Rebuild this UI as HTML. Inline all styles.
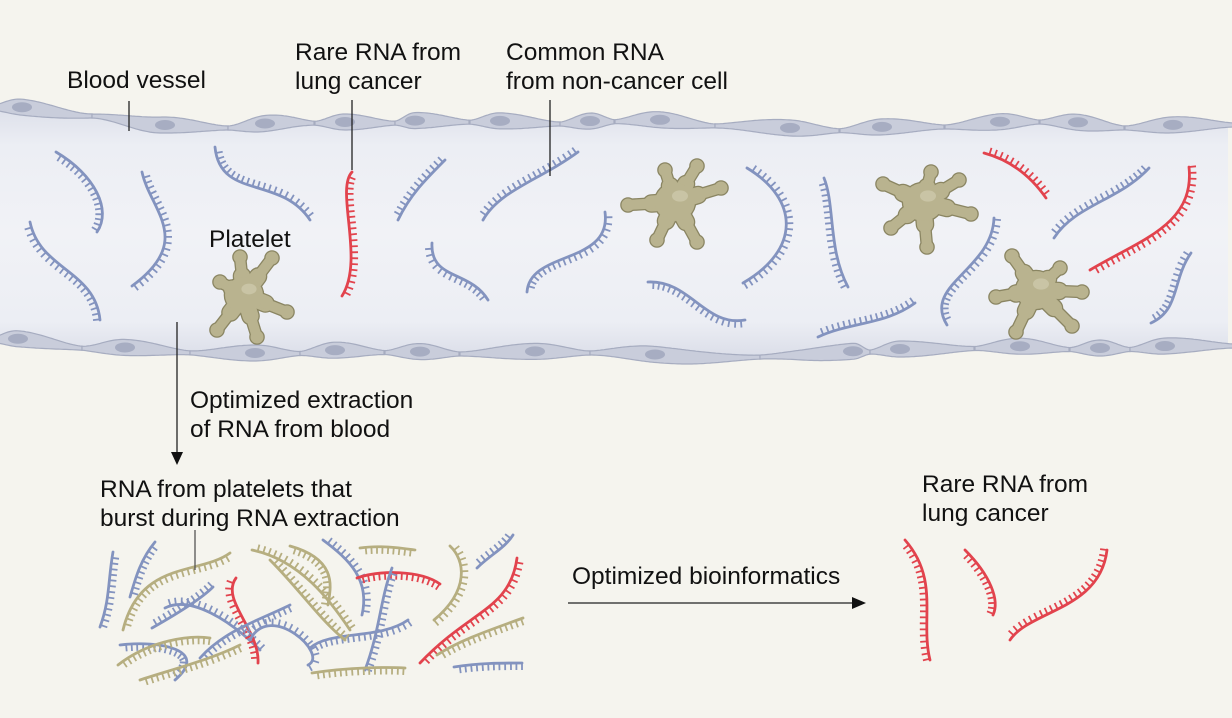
<!DOCTYPE html>
<html><head><meta charset="utf-8"><style>
html,body{margin:0;padding:0;background:#f5f4ee;}
svg{display:block}
text{font-family:"Liberation Sans",sans-serif;font-size:24.5px;fill:#111;}
</style></head><body>
<svg id="s" width="1232" height="718" viewBox="0 0 1232 718" xmlns="http://www.w3.org/2000/svg">
<defs>
<linearGradient id="vg" x1="0" y1="0" x2="0" y2="1">
<stop offset="0" stop-color="#dde0ea"/><stop offset="0.15" stop-color="#eceef4"/>
<stop offset="0.5" stop-color="#f1f2f6"/><stop offset="0.85" stop-color="#eceef4"/><stop offset="1" stop-color="#dadde8"/>
</linearGradient>
</defs>
<rect width="1232" height="718" fill="#f5f4ee"/>
<path id="vessel" fill="url(#vg)"/>
<g id="walls"></g>
<g id="strands"></g>
<g id="plates"></g>
<text x="67" y="88">Blood vessel</text>
<text x="295" y="60">Rare RNA from</text>
<text x="295" y="89">lung cancer</text>
<text x="506" y="60">Common RNA</text>
<text x="506" y="89">from non-cancer cell</text>
<text x="209" y="247">Platelet</text>
<text x="190" y="408">Optimized extraction</text>
<text x="190" y="437">of RNA from blood</text>
<text x="100" y="497">RNA from platelets that</text>
<text x="100" y="526">burst during RNA extraction</text>
<text x="572" y="584">Optimized bioinformatics</text>
<text x="922" y="492">Rare RNA from</text>
<text x="922" y="521">lung cancer</text>
<g stroke="#222" stroke-width="1.3">
<line x1="129" y1="101" x2="129" y2="131"/>
<line x1="352" y1="100" x2="352" y2="170"/>
<line x1="550" y1="100" x2="550" y2="176"/>
<line x1="195" y1="530" x2="195" y2="570" stroke="#555"/>
<line x1="177" y1="322" x2="177" y2="455"/>
<line x1="568" y1="603" x2="855" y2="603"/>
</g>
<path d="M171,452 L177,465 L183,452 Z" fill="#111"/>
<path d="M852,597 L866,603 L852,609 Z" fill="#111"/>
</svg>
<script>
var NS="http://www.w3.org/2000/svg";
function el(t,a,p){var e=document.createElementNS(NS,t);for(var k in a)e.setAttribute(k,a[k]);p.appendChild(e);return e;}
var C={b:"#8393bf",r:"#e2434d",o:"#b6ae80"};
function bez(p,t){var u=1-t;return [u*u*u*p[0]+3*u*u*t*p[2]+3*u*t*t*p[4]+t*t*t*p[6],u*u*u*p[1]+3*u*u*t*p[3]+3*u*t*t*p[5]+t*t*t*p[7]];}
var SG=document.getElementById("strands");
function strand(p,c,side){side=side||1;var col=C[c];
 var d="M"+p[0]+","+p[1]+" C"+p[2]+","+p[3]+" "+p[4]+","+p[5]+" "+p[6]+","+p[7];
 el("path",{d:d,fill:"none",stroke:col,"stroke-width":2.8,"stroke-linecap":"round"},SG);
 var pts=[];for(var i=0;i<=200;i++)pts.push(bez(p,i/200));
 var acc=0,td="";
 for(var i=1;i<pts.length;i++){var dx=pts[i][0]-pts[i-1][0],dy=pts[i][1]-pts[i-1][1],s=Math.hypot(dx,dy);acc+=s;
  if(acc>=5.5){acc=0;var nx=-dy/s*side,ny=dx/s*side;var x=pts[i][0],y=pts[i][1];
   td+="M"+x.toFixed(1)+","+y.toFixed(1)+"L"+(x+nx*7).toFixed(1)+","+(y+ny*7).toFixed(1);}}
 el("path",{d:td,fill:"none",stroke:col,"stroke-width":1.8},SG);
}
var TOP=[[0,108],[90,116],[160,127],[230,128],[300,123],[350,124],[450,122],[560,124],[640,121],[720,126],[820,131],[940,127],[1040,122],[1130,128],[1232,125]];
var BOT=[[0,340],[100,349],[250,355],[350,352],[450,354],[600,353],[700,359],[800,356],[900,351],[1000,348],[1100,350],[1232,346]];
function yAt(L,x){for(var i=1;i<L.length;i++){if(x<=L[i][0]){var a=L[i-1],b=L[i],t=(x-a[0])/(b[0]-a[0]);t=t*t*(3-2*t);return a[1]+(b[1]-a[1])*t;}}return L[L.length-1][1];}
var vd="M0,"+yAt(TOP,0);for(var x=0;x<=1228;x+=4)vd+=" L"+x+","+yAt(TOP,x).toFixed(1);
for(var x=1228;x>=0;x-=4)vd+=" L"+x+","+yAt(BOT,x).toFixed(1);vd+="Z";
document.getElementById("vessel").setAttribute("d",vd);
var WG=document.getElementById("walls");
function cells(L,segs){
 segs.forEach(function(s){var x1=s[0],x2=s[1],nx=s[2];
  var up="",dn="";
  for(var x=x1;x<=x2;x+=2){var t=x<nx?(x-x1)/(nx-x1):(x2-x)/(x2-nx);t=Math.sin(t*Math.PI/2);
   var h1=2+8*Math.pow(t,1.6),h2=2+4*Math.pow(t,1.6),y=yAt(L,x);
   up+=(x==x1?"M":" L")+x+","+(y-h1).toFixed(1);dn=" L"+x+","+(y+h2).toFixed(1)+dn;}
  el("path",{d:up+dn+"Z",fill:"#c9cddb",stroke:"#a6acc0","stroke-width":1.2},WG);
  el("ellipse",{cx:nx,cy:yAt(L,nx)-2,rx:10,ry:5,fill:"#a7adc2"},WG);});
}
cells(TOP,[[-10,92,22],[92,228,165],[228,315,265],[315,395,345],[395,470,415],[470,560,500],[560,615,590],[615,715,660],[715,840,790],[840,945,882],[945,1040,1000],[1040,1125,1078],[1125,1235,1173]]);
cells(BOT,[[-10,82,18],[82,190,125],[190,300,255],[300,385,335],[385,460,420],[460,590,535],[590,760,655],[760,870,853],[870,975,900],[975,1070,1020],[1070,1130,1100],[1130,1235,1165]]);
[
[[56,152,95,175,112,210,97,232],"b",1],
[[30,222,40,270,95,270,100,320],"b",1],
[[142,172,150,210,195,240,132,286],"b",-1],
[[215,147,220,200,280,175,310,220],"b",-1],
[[352,172,335,190,365,260,342,296],"r",-1],
[[398,220,410,195,425,180,445,160],"b",-1],
[[432,243,430,280,470,270,488,300],"b",1],
[[483,220,500,190,540,180,578,152],"b",-1],
[[527,292,530,250,612,265,605,212],"b",1],
[[747,168,800,200,800,250,743,283],"b",-1],
[[824,178,835,205,828,250,848,287],"b",1],
[[648,282,690,280,705,327,745,320],"b",1],
[[818,337,850,322,885,325,915,303],"b",-1],
[[947,325,922,285,992,270,994,218],"b",1],
[[984,153,1010,160,1030,175,1046,198],"r",-1],
[[1054,238,1075,205,1120,200,1149,168],"b",-1],
[[1090,270,1140,240,1195,225,1189,167],"r",1],
[[1151,323,1180,310,1172,280,1191,253],"b",-1]
].forEach(function(v){strand(v[0],v[1],v[2]);});
[
[[113,552,108,580,110,600,100,627],"b",-1],
[[155,542,140,560,135,580,130,597],"b",-1],
[[123,630,140,560,200,575,230,553],"o",1],
[[152,628,175,615,200,600,213,587],"b",-1],
[[165,608,190,595,230,620,260,650],"b",-1],
[[236,578,220,600,260,630,258,663],"r",1],
[[120,645,160,640,210,650,175,680],"b",1],
[[118,665,150,640,190,635,210,638],"o",1],
[[200,658,225,630,260,620,290,605],"b",1],
[[250,640,270,600,330,655,308,665],"b",-1],
[[252,550,300,560,330,600,350,630],"o",-1],
[[290,546,340,560,330,590,328,605],"o",1],
[[323,540,350,560,370,580,362,615],"b",-1],
[[360,548,380,545,400,548,415,550],"o",1],
[[357,578,380,570,420,570,440,584],"r",1],
[[392,568,380,600,380,630,365,670],"b",-1],
[[310,648,330,630,380,640,408,620],"b",1],
[[312,673,350,667,390,667,405,668],"o",1],
[[450,546,465,560,470,590,434,620],"o",-1],
[[477,568,490,555,505,548,513,535],"b",-1],
[[420,663,470,610,510,610,517,558],"r",1],
[[437,655,460,640,490,630,523,618],"o",1],
[[454,667,480,663,500,663,522,663],"b",1],
[[270,560,300,590,320,620,345,640],"o",-1],
[[140,680,170,670,210,660,240,645],"o",1]
].forEach(function(v){strand(v[0],v[1],v[2]);});
[
[[905,540,940,580,920,620,930,660],"r",1],
[[965,550,990,575,1000,600,993,615],"r",1],
[[1010,640,1030,610,1100,610,1107,550],"r",-1]
].forEach(function(v){strand(v[0],v[1],v[2]);});
var PG=document.getElementById("plates");
function plate(cx,cy,tips,r){
 var g=el("g",{},PG);
 [["#8a8562",2.6],["#b9b38f",0]].forEach(function(L){
  tips.forEach(function(t){
   var mx=cx+(t[0]-cx)*0.5,my=cy+(t[1]-cy)*0.5;
   el("line",{x1:cx,y1:cy,x2:mx,y2:my,stroke:L[0],"stroke-width":16+L[1],"stroke-linecap":"round"},g);
   el("line",{x1:cx,y1:cy,x2:t[0],y2:t[1],stroke:L[0],"stroke-width":10+L[1],"stroke-linecap":"round"},g);
   el("circle",{cx:t[0],cy:t[1],r:6.5+L[1]/2,fill:L[0]},g);});
  el("ellipse",{cx:cx,cy:cy,rx:r+L[1]/2,ry:r*0.95+L[1]/2,fill:L[0]},g);
 });
 el("ellipse",{cx:cx+5,cy:cy-6,rx:r*0.4,ry:r*0.28,fill:"#c9c4a5"},g);
}
plate(244,295,[[240,257],[272,258],[220,282],[287,312],[217,330],[257,337]],19);
plate(675,202,[[697,166],[665,170],[721,188],[628,205],[657,240],[697,242]],20);
plate(923,202,[[931,172],[883,184],[959,180],[971,214],[927,247],[891,228]],20);
plate(1036,290,[[1012,256],[1060,268],[1082,292],[1072,326],[1016,332],[996,297]],20);
</script>
</body></html>
